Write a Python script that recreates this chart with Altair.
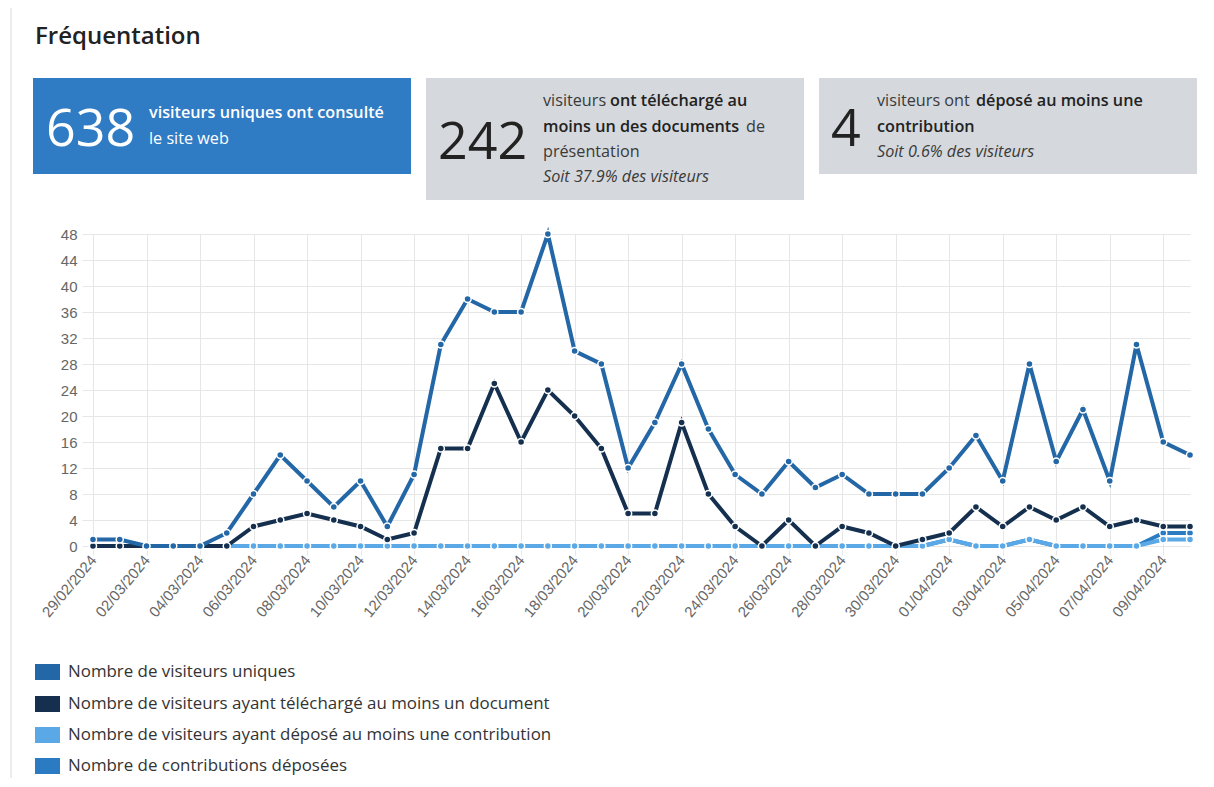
import altair as alt
import pandas as pd

# ---------------- data ----------------
dates = [d.strftime("%d/%m/%Y") for d in pd.date_range("2024-02-29", "2024-04-10")]

unique_visitors = [1, 1, 0, 0, 0, 2, 8, 14, 10, 6, 10, 3, 11, 31, 38, 36, 36, 48, 30, 28, 12,
                   19, 28, 18, 11, 8, 13, 9, 11, 8, 8, 8, 12, 17, 10, 28, 13, 21, 10, 31, 16, 14]
downloaders = [0, 0, 0, 0, 0, 0, 3, 4, 5, 4, 3, 1, 2, 15, 15, 25, 16, 24, 20, 15, 5,
               5, 19, 8, 3, 0, 4, 0, 3, 2, 0, 1, 2, 6, 3, 6, 4, 6, 3, 4, 3, 3]
contributors = [0, 0, 0, 0, 0, 0, 0, 0, 0, 0, 0, 0, 0, 0, 0, 0, 0, 0, 0, 0, 0,
                0, 0, 0, 0, 0, 0, 0, 0, 0, 0, 0, 1, 0, 0, 1, 0, 0, 0, 0, 1, 1]
contributions = [0, 0, 0, 0, 0, 0, 0, 0, 0, 0, 0, 0, 0, 0, 0, 0, 0, 0, 0, 0, 0,
                 0, 0, 0, 0, 0, 0, 0, 0, 0, 0, 0, 1, 0, 0, 1, 0, 0, 0, 0, 2, 2]

series_names = [
    "Nombre de visiteurs uniques",
    "Nombre de visiteurs ayant téléchargé au moins un document",
    "Nombre de visiteurs ayant déposé au moins une contribution",
    "Nombre de contributions déposées",
]
series_values = [unique_visitors, downloaders, contributors, contributions]
series_colors = ["#2467a6", "#15304f", "#5aa9e6", "#2b7bc2"]

y_ticks = list(range(0, 49, 4))
x_ticks = dates[::2]

page_title = "Fréquentation"
kpi_unique = "638"
kpi_download = "242"
kpi_contrib = "4"

# ---------------- layout ----------------
W, H = 1097, 312
OX, OY = 93, 234  # page position of plot origin
FS = 16.2


def rx(px):
    return px - OX


def ry(py):
    return py - OY


one = pd.DataFrame({"k": [0]})


def box(x1, y1, x2, y2, fill):
    return alt.Chart(one).mark_rect(fill=fill).encode(
        x=alt.value(rx(x1)), x2=alt.value(rx(x2)), y=alt.value(ry(y1)), y2=alt.value(ry(y2))
    )


def txt(s, px, py, size=FS, weight="normal", style="normal", color="#333333",
        font="Open Sans", baseline="middle"):
    return alt.Chart(pd.DataFrame({"t": [s]})).mark_text(
        align="left", baseline=baseline, fontSize=size, fontWeight=weight,
        fontStyle=style, color=color, font=font
    ).encode(x=alt.value(rx(px)), y=alt.value(ry(py)), text="t:N")


decor = [
    alt.Chart(one).mark_rule(color="#e6e6e6", strokeWidth=1.5).encode(
        x=alt.value(rx(11)), y=alt.value(ry(0)), y2=alt.value(ry(787))),
    txt(page_title, 35, 37, size=24, weight=600, color="#222222"),
    box(33, 78, 411, 174, "#2f7bc4"),
    box(426, 78, 804, 200, "#d5d8dc"),
    box(819, 78, 1197, 174, "#d5d8dc"),
    txt(kpi_unique, 46, 146, size=52, color="white", baseline="alphabetic"),
    txt("visiteurs uniques ont consulté", 149, 113, weight=600, color="white"),
    txt("le site web", 149, 139, color="white"),
    txt(kpi_download, 438, 159, size=52, color="#222222", baseline="alphabetic"),
    txt("visiteurs", 543, 101, color="#3a3a3a"),
    txt("ont téléchargé au", 610, 101, weight=600, color="#222222"),
    txt("moins un des documents", 543, 127, weight=600, color="#222222"),
    txt("de", 746, 127, color="#3a3a3a"),
    txt("présentation", 543, 152, color="#3a3a3a"),
    txt("Soit 37.9% des visiteurs", 543, 177, style="italic", color="#3a3a3a"),
    txt(kpi_contrib, 831, 146, size=52, color="#222222", baseline="alphabetic"),
    txt("visiteurs ont", 877, 101, color="#3a3a3a"),
    txt("déposé au moins une", 976, 101, weight=600, color="#222222"),
    txt("contribution", 877, 127, weight=600, color="#222222"),
    txt("Soit 0.6% des visiteurs", 877, 152, style="italic", color="#3a3a3a"),
]

# legend (drawn as swatches + labels)
legend_rows = [672, 704, 735, 766]
for name, col, cy in zip(series_names, series_colors, legend_rows):
    decor.append(box(35, cy - 8, 60, cy + 8, col))
    decor.append(txt(name, 68, cy, size=16.9, color="#333333"))

# ---------------- chart ----------------
frames = [pd.DataFrame({"date": dates, "value": v, "series": n})
          for n, v in zip(series_names, series_values)]

x_enc = alt.X(
    "date:O", sort=dates, scale=alt.Scale(type="point", padding=0),
    axis=alt.Axis(values=x_ticks, title=None, labelAngle=-50, labelAlign="right",
                  labelBaseline="middle", labelFont="Liberation Sans", labelFontSize=15,
                  labelColor="#666666", labelPadding=2, grid=True, gridColor="#e6e6e6",
                  tickColor="#e6e6e6", tickSize=9, domain=False, labelOverlap=False),
)
y_enc = alt.Y(
    "value:Q", scale=alt.Scale(domain=[0, 48], nice=False, zero=True),
    axis=alt.Axis(values=y_ticks, title=None, labelFont="Liberation Sans", labelFontSize=15,
                  labelColor="#666666", labelPadding=5, grid=True, gridColor="#e6e6e6",
                  tickColor="#e6e6e6", tickSize=11, domain=False),
)
color_scale = alt.Scale(domain=series_names, range=series_colors)

data_layers = []
for n, f in reversed(list(zip(series_names, frames))):
    base = alt.Chart(f)
    data_layers.append(
        base.mark_line(strokeWidth=4).encode(
            x=x_enc, y=y_enc, color=alt.Color("series:N", scale=color_scale, legend=None))
    )
    data_layers.append(
        base.mark_point(filled=True, size=50, stroke="white", strokeWidth=1.5, opacity=1).encode(
            x=x_enc, y=y_enc, color=alt.Color("series:N", scale=color_scale, legend=None))
    )

chart = alt.layer(*decor, *data_layers).properties(
    width=W, height=H,
    autosize=alt.AutoSizeParams(type="none"),
    padding={"left": OX - 8, "top": OY - 8, "right": 12, "bottom": 232},
).configure_view(stroke=None)

chart.save("out.html", embed_options={"renderer": "svg", "actions": False})
